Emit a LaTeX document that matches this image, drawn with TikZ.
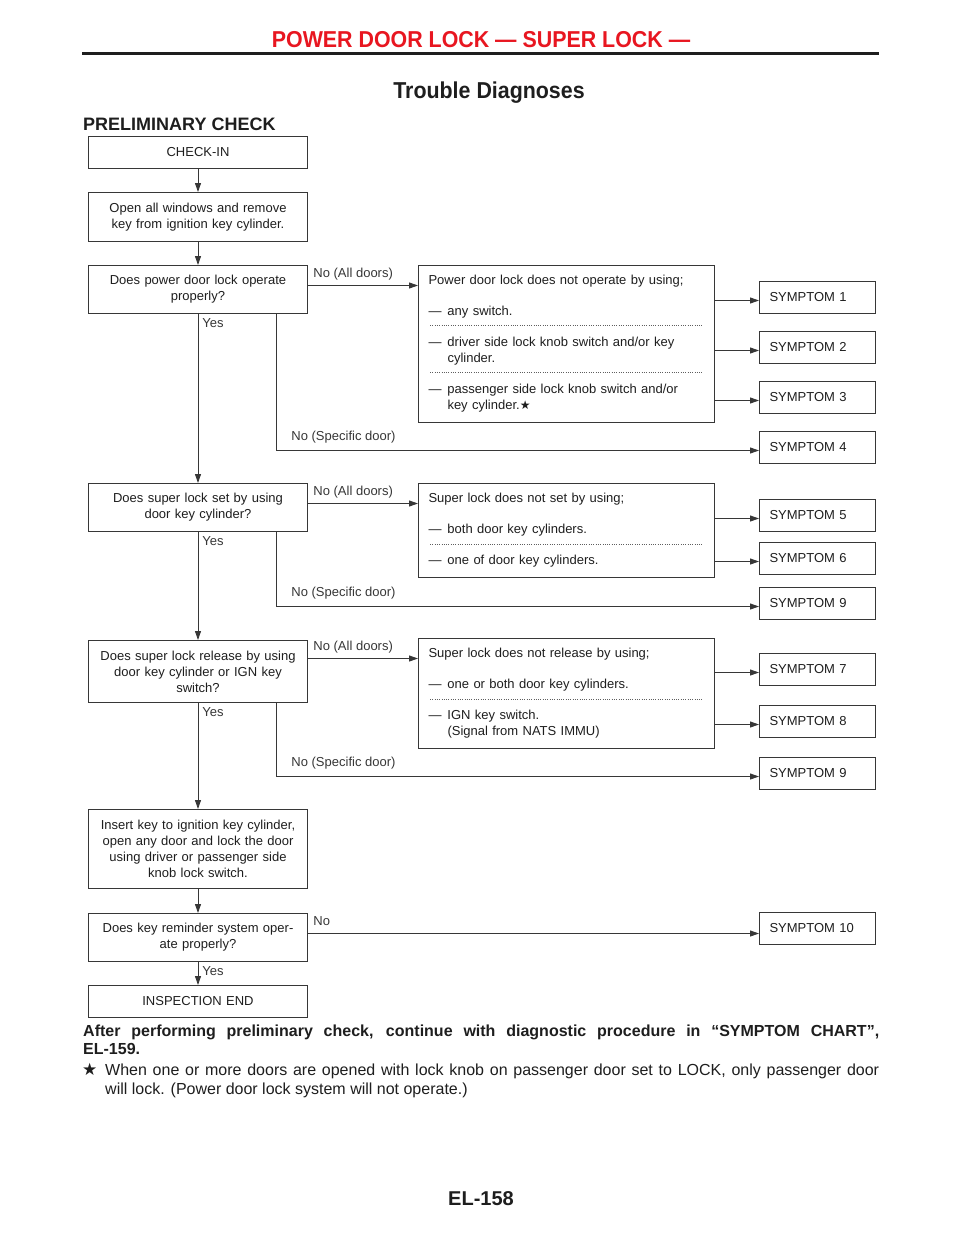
\documentclass[tikz,border=0pt]{standalone}
\usepackage{fontspec}
\setmainfont{Liberation Sans}
\newfontfamily\condfont[FakeStretch=0.93]{Liberation Sans}
\newfontfamily\starfont{DejaVu Sans}
\usepackage{tikz}
\usetikzlibrary{calc}
\usetikzlibrary{arrows.meta, positioning}

\definecolor{header_red}{RGB}{232,22,32}
\definecolor{line_gray}{RGB}{55,55,55}
\definecolor{ink}{RGB}{30,30,30}

\newcommand{\dashitem}{\makebox[19pt][l]{—}}
\newcommand{\blackstar}{{\starfont\fontsize{12}{14}\selectfont ★}}

\begin{document}
\begin{tikzpicture}[
    x=1pt, y=-1pt,
    font=\fontsize{13}{16}\selectfont,
    text=ink,
    >={Triangle[length=9pt,width=6pt]},
    % boxes of the flow chart
    step_box/.style={draw=line_gray, line width=1pt, text width=203pt, inner xsep=8pt, inner ysep=0pt, align=center, anchor=north west},
    info_box/.style={draw=line_gray, line width=1pt, text width=276pt, inner xsep=10pt, inner ysep=0pt, align=left, anchor=north west},
    symptom_box/.style={draw=line_gray, line width=1pt, text width=96pt, inner xsep=10pt, inner ysep=0pt, minimum height=32pt, align=left, anchor=north west},
    % connectors and their labels
    flow_arrow/.style={->, line width=0.9pt, line_gray},
    sep_dots/.style={line_gray!80, line width=0.6pt, dash pattern=on 0.6pt off 1.7pt},
    yes_label/.style={anchor=north west, inner sep=0pt, xshift=4pt, yshift=-4pt},
    no_label/.style={anchor=base west, inner sep=0pt, xshift=5pt, yshift=8.5pt},
    specific_label/.style={anchor=base west, inner sep=0pt, xshift=15pt, yshift=10.5pt}
]

% --- page frame ---
\fill[white] (0,0) rectangle (960,1242);
\useasboundingbox (0,0) rectangle (960,1242);

\node[text=header_red, font=\condfont\bfseries\fontsize{23}{26}\selectfont] (page_head) at (481,40) {POWER DOOR LOCK — SUPER LOCK —};
\draw[line width=3pt, ink] (82,53) -- (879,53);
\node[font=\condfont\bfseries\fontsize{23}{26}\selectfont] (title) at (489,93) {Trouble Diagnoses};
\node[anchor=west, inner sep=0pt, font=\bfseries\fontsize{18}{22}\selectfont] (section) at (83,124) {PRELIMINARY CHECK};

% --- main column ---
\node[step_box, minimum height=32pt] (checkin) at (88,136) {CHECK-IN};
\node[step_box, minimum height=49pt] (open_windows) at (88,192) {Open all windows and remove\\key from ignition key cylinder.};
\node[step_box, minimum height=48pt] (q_power) at (88,265) {Does power door lock operate\\properly?};
\node[step_box, minimum height=48pt] (q_set) at (88,483) {Does super lock set by using\\door key cylinder?};
\node[step_box, minimum height=62pt] (q_release) at (88,640) {Does super lock release by using\\door key cylinder or IGN key\\switch?};
\node[step_box, minimum height=79pt] (insert_key) at (88,809) {Insert key to ignition key cylinder,\\open any door and lock the door\\using driver or passenger side\\knob lock switch.};
\node[step_box, minimum height=48pt] (q_reminder) at (88,913) {Does key reminder system oper-\\ate properly?};
\node[step_box, minimum height=32pt] (insp_end) at (88,985) {INSPECTION END};

% --- "No (All doors)" boxes ---
\node[info_box, minimum height=157pt] (info_power) at (418,265) {Power door lock does not operate by using;\\[15pt]
    \dashitem any switch.\\[15pt]
    \dashitem driver side lock knob switch and/or key\\
    \hspace*{19pt}cylinder.\\[15pt]
    \dashitem passenger side lock knob switch and/or\\
    \hspace*{19pt}key cylinder.\blackstar};
\node[info_box, minimum height=94pt] (info_set) at (418,483) {Super lock does not set by using;\\[15pt]
    \dashitem both door key cylinders.\\[15pt]
    \dashitem one of door key cylinders.};
\node[info_box, minimum height=110pt] (info_release) at (418,638) {Super lock does not release by using;\\[15pt]
    \dashitem one or both door key cylinders.\\[15pt]
    \dashitem IGN key switch.\\
    \hspace*{19pt}(Signal from NATS IMMU)};

% dotted separators
\draw[sep_dots] (430,325) -- (703,325);
\draw[sep_dots] (430,372) -- (703,372);
\draw[sep_dots] (430,544) -- (703,544);
\draw[sep_dots] (430,699) -- (703,699);

% --- symptoms ---
\node[symptom_box] (sym_1) at (759,281) {SYMPTOM 1};
\node[symptom_box] (sym_2) at (759,331) {SYMPTOM 2};
\node[symptom_box] (sym_3) at (759,381) {SYMPTOM 3};
\node[symptom_box] (sym_4) at (759,431) {SYMPTOM 4};
\node[symptom_box] (sym_5) at (759,499) {SYMPTOM 5};
\node[symptom_box] (sym_6) at (759,542) {SYMPTOM 6};
\node[symptom_box] (sym_9a) at (759,587) {SYMPTOM 9};
\node[symptom_box] (sym_7) at (759,653) {SYMPTOM 7};
\node[symptom_box] (sym_8) at (759,705) {SYMPTOM 8};
\node[symptom_box] (sym_9b) at (759,757) {SYMPTOM 9};
\node[symptom_box] (sym_10) at (759,912) {SYMPTOM 10};

\foreach \s in {1,2,3,4,5,6,7,8,9a,9b,10}
    \coordinate (sym_\s_in) at ([yshift=-3pt]sym_\s.west);

% --- connectors ---
\draw[flow_arrow] (checkin) -- (open_windows);
\draw[flow_arrow] (open_windows) -- (q_power);
\draw[flow_arrow] (q_power.south) -- node[yes_label, pos=0] {Yes} (q_set.north);
\draw[flow_arrow] (q_set.south) -- node[yes_label, pos=0] {Yes} (q_release.north);
\draw[flow_arrow] (q_release.south) -- node[yes_label, pos=0] {Yes} (insert_key.north);
\draw[flow_arrow] (insert_key) -- (q_reminder);
\draw[flow_arrow] (q_reminder.south) -- node[yes_label, pos=0] {Yes} (insp_end.north);

% No (All doors)
\coordinate (power_no) at ([yshift=4pt]q_power.east);
\coordinate (set_no) at ([yshift=4pt]q_set.east);
\coordinate (release_no) at ([yshift=13pt]q_release.east);
\coordinate (reminder_no) at ([yshift=4pt]q_reminder.east);
\draw[flow_arrow] (power_no) -- node[no_label, pos=0] {No (All doors)} (power_no -| info_power.west);
\draw[flow_arrow] (set_no) -- node[no_label, pos=0] {No (All doors)} (set_no -| info_set.west);
\draw[flow_arrow] (release_no) -- node[no_label, pos=0] {No (All doors)} (release_no -| info_release.west);
\draw[flow_arrow] (reminder_no) -- node[no_label, pos=0] {No} (reminder_no -| sym_10.west);

% No (Specific door)
\coordinate (power_split) at ($(q_power.south west)+(188,0)$);
\coordinate (set_split) at ($(q_set.south west)+(188,0)$);
\coordinate (release_split) at ($(q_release.south west)+(188,0)$);
\draw[flow_arrow] (power_split) |- node[specific_label, pos=0.5] {No (Specific door)} (sym_4_in);
\draw[flow_arrow] (set_split) |- node[specific_label, pos=0.5] {No (Specific door)} (sym_9a_in);
\draw[flow_arrow] (release_split) |- node[specific_label, pos=0.5] {No (Specific door)} (sym_9b_in);

% to the symptoms
\draw[flow_arrow] (info_power.east |- sym_1_in) -- (sym_1_in);
\draw[flow_arrow] (info_power.east |- sym_2_in) -- (sym_2_in);
\draw[flow_arrow] (info_power.east |- sym_3_in) -- (sym_3_in);
\draw[flow_arrow] (info_set.east |- sym_5_in) -- (sym_5_in);
\draw[flow_arrow] (info_set.east |- sym_6_in) -- (sym_6_in);
\draw[flow_arrow] (info_release.east |- sym_7_in) -- (sym_7_in);
\draw[flow_arrow] (info_release.east |- sym_8_in) -- (sym_8_in);

% --- notes below the chart ---
\node[anchor=north west, inner sep=0pt, text width=796pt, align=justify, font=\bfseries\fontsize{16}{18}\selectfont] (after_note) at (83,1025) {After performing preliminary check, continue with diagnostic procedure in “SYMPTOM CHART”,\linebreak EL-159.};
\node[anchor=north west, inner sep=0pt, font=\fontsize{17}{19}\selectfont] (star_mark) at (82,1063) {{\starfont ★}};
\node[anchor=north west, inner sep=0pt, text width=774pt, align=justify, font=\fontsize{16}{19}\selectfont] (star_note) at (105,1064) {When one or more doors are opened with lock knob on passenger door set to LOCK, only passenger door\linebreak will lock. (Power door lock system will not operate.)};

\node[font=\bfseries\fontsize{20}{24}\selectfont] (page_no) at (481,1199) {EL-158};

\end{tikzpicture}
\end{document}
